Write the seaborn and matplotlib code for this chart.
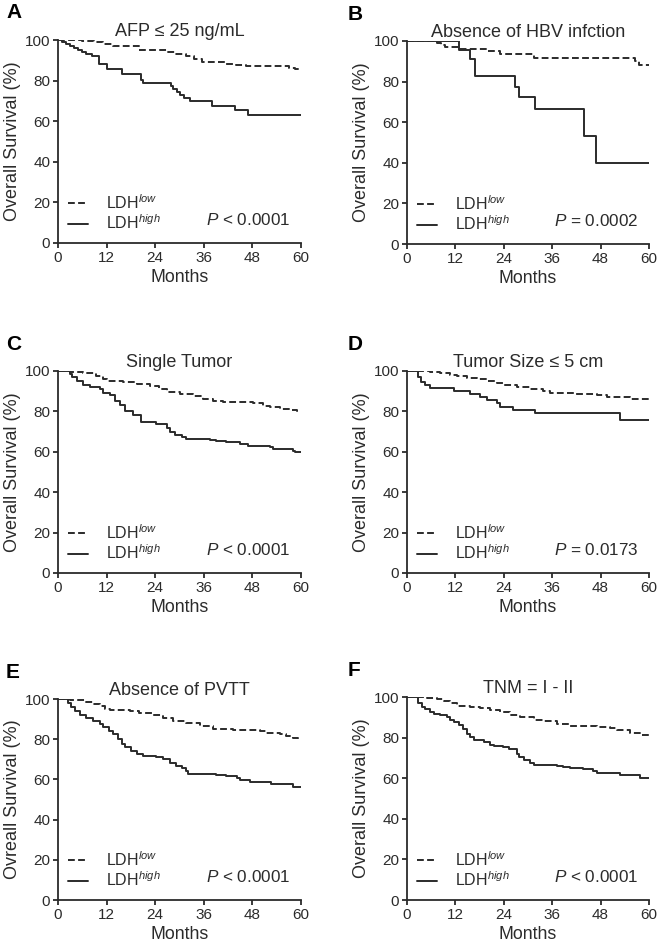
import numpy as np
import pandas as pd
import matplotlib
matplotlib.use('Agg')
import matplotlib.pyplot as plt
import seaborn as sns

# Kaplan-Meier steps (months, overall survival %)
a_low_t = [0, 6, 9, 11, 13.5, 20, 27, 29, 31.5, 33.5, 35.5, 41.5, 44, 46.5, 57, 58.5, 60]
a_low_s = [100, 99.5, 99, 98, 97, 95, 94, 93, 92, 90.5, 89, 88, 87.5, 87, 86, 85.5, 85.5]
a_high_t = [0, 1, 2, 3, 4, 5, 6, 7, 8.5, 10, 12, 15.7, 20.5, 21, 27.8, 28.5, 29.3, 30, 31, 32.5, 38, 43.7, 47, 60]
a_high_s = [100, 99, 98, 97, 96, 95, 94, 93, 92, 88, 85.7, 83.3, 80.5, 79, 77.5, 76, 74.5, 73, 71.5, 70, 67.7, 65.3, 63, 63]

b_low_t = [0, 7.5, 8.5, 9.5, 13, 19.8, 23, 31.4, 56.5, 57.4, 60]
b_low_s = [100, 99, 98, 97, 96, 95, 93.5, 91.5, 90, 88, 88]
b_high_t = [0, 12.8, 15.7, 16.8, 26.8, 27.7, 31.7, 44, 46.8, 60]
b_high_s = [100, 95.7, 91.3, 82.6, 77.3, 72.4, 66.7, 53.3, 40, 40]

c_low_t = [0, 3, 6.2, 9.5, 11, 12, 16, 19.4, 22.7, 25, 26.8, 30, 33.4, 35.9, 38.3, 40.8, 48.2, 50.7, 52.3, 54.8, 57.3, 58.9, 60]
c_low_s = [100, 99.5, 99, 97.5, 96, 95, 94.5, 93.5, 92.5, 91, 89.8, 88.7, 87.5, 86, 85, 84.5, 84, 82.5, 82, 81, 80.5, 80, 80]
c_high_t = [0, 2.9, 3.5, 4.6, 6.2, 7.8, 10.3, 11.1, 12.8, 14, 15.2, 16.5, 18.5, 20.6, 24.3, 26.8, 27.6, 29, 30.5, 31.7,
            37.5, 39, 41.6, 44.9, 47, 52.3, 53.1, 58, 58.5, 60]
c_high_s = [100, 98.5, 97, 95, 93, 92, 91, 89, 88, 85, 83, 80, 78, 75, 74, 72, 70, 68.5, 67.5, 66.5,
            66, 65.5, 65, 64, 63, 62.5, 61.5, 60.5, 59.7, 59.7]

d_low_t = [0, 5.8, 8.3, 10.7, 12.4, 14.9, 17.3, 19.8, 22.3, 23.9, 27.2, 30.5, 33.8, 35.5, 42, 47, 49.5, 55.3, 57.8, 60]
d_low_s = [100, 99.6, 99.2, 98, 97.5, 96.5, 96, 95, 94, 93, 92, 91, 90, 89, 88.5, 88, 87, 86.3, 86, 86]
d_high_t = [0, 2.7, 3.5, 4.5, 5.6, 11.6, 15.7, 18.2, 19.8, 22.3, 23.1, 26.4, 31.8, 52.8, 60]
d_high_s = [100, 97, 94.5, 93, 91.5, 90, 88.4, 86.9, 85.6, 84, 82, 80.8, 79.4, 75.9, 75.9]

e_low_t = [0, 2.9, 5.4, 7, 8.7, 10.3, 11.5, 12.8, 17.7, 20.1, 23.4, 26, 28.5, 31.7, 35, 38.3, 43.3, 49.8, 51.4, 54.8,
           56.4, 58.1, 59.3, 60]
e_low_s = [100, 99.6, 99.3, 98.5, 97.5, 96.5, 95, 94.5, 93.8, 93, 92, 90.5, 89, 88, 86.5, 85.3, 84.8, 84, 83, 82.5,
           81.5, 80.5, 80, 80]
e_high_t = [0, 2.5, 3.3, 4.1, 5.4, 7, 8.7, 10.3, 11.1, 12.5, 13.6, 14.8, 15.7, 16.5, 18.1, 19.4, 21, 24.3, 26, 27.6,
            29.2, 30.5, 31.7, 32.1, 35.8, 39.1, 41.6, 44.1, 44.9, 47.4, 52.7, 58.1, 60]
e_high_s = [100, 98, 96, 94, 92, 90.5, 89, 87.5, 86, 84, 82.5, 80, 77.5, 76, 74, 72.5, 71.5, 71, 70, 68,
            66.5, 65.5, 64, 62.8, 62.5, 62, 61.5, 60.5, 59.5, 58.5, 57.5, 56.3, 56.3]

f_low_t = [0, 5, 7.4, 9.1, 10.7, 12.4, 15.7, 18.2, 20.6, 23.1, 25.6, 28, 31.4, 33.8, 37.1, 40.4, 47, 50.3, 52, 55.3,
           57.8, 59.4, 60]
f_low_s = [100, 99.6, 99.2, 98.2, 97, 95.8, 95, 94.5, 93.5, 92.7, 91, 90, 88.8, 88, 86.5, 85.8, 85.2, 84.5, 83.5, 82.5,
           81.5, 81.2, 81.2]
f_high_t = [0, 2.7, 3.7, 4.5, 5.8, 6.6, 8.3, 9.9, 10.7, 11.6, 12.8, 14, 14.9, 15.7, 16.5, 19, 20.6, 21.5, 23.9, 25.2,
            27.2, 27.7, 28.9, 30.5, 31.4, 37.1, 38.8, 40.4, 43.7, 46.2, 47, 52.8, 57.8, 60]
f_high_s = [100, 97, 95, 94, 92.5, 91.5, 91, 90, 88.5, 87.5, 86, 84, 82, 80.5, 79, 78, 76.5, 75.8, 75.3, 74.5,
            72, 70.5, 69, 67.5, 66.5, 66, 65.5, 65, 64.5, 63.5, 62.8, 61.5, 60, 60]

letters = ['A', 'B', 'C', 'D', 'E', 'F']
titles = ['AFP \u2264 25 ng/mL', 'Absence of HBV infction', 'Single Tumor',
          'Tumor Size \u2264 5 cm', 'Absence of PVTT', 'TNM = I - II']
ylabels = ['Overall Survival (%)'] * 4 + ['Ovreall Survival (%)', 'Overall Survival (%)']
pvals = ['$P$ < 0.0001', '$P$ = 0.0002', '$P$ < 0.0001', '$P$ = 0.0173', '$P$ < 0.0001', '$P$ < 0.0001']
curves = [(a_low_t, a_low_s, a_high_t, a_high_s), (b_low_t, b_low_s, b_high_t, b_high_s),
          (c_low_t, c_low_s, c_high_t, c_high_s), (d_low_t, d_low_s, d_high_t, d_high_s),
          (e_low_t, e_low_s, e_high_t, e_high_s), (f_low_t, f_low_s, f_high_t, f_high_s)]

LOW = 'LDH$^{low}$'
HIGH = 'LDH$^{high}$'
ink = '#2b2b2b'

sns.set_style('ticks')
plt.rcParams['font.family'] = ['Liberation Sans', 'DejaVu Sans']
plt.rcParams['mathtext.fontset'] = 'custom'
plt.rcParams['mathtext.rm'] = 'Liberation Sans'
plt.rcParams['mathtext.it'] = 'Liberation Sans:italic'
plt.rcParams['axes.edgecolor'] = ink
plt.rcParams['xtick.color'] = ink
plt.rcParams['ytick.color'] = ink
plt.rcParams['text.color'] = ink
plt.rcParams['axes.labelcolor'] = ink

fig = plt.figure(figsize=(6.59, 9.46), dpi=100)

# axes rectangles in pixels: left, top, right, bottom
boxes = [(58, 40, 301, 243), (407, 41, 649, 244),
         (58, 371, 301, 573), (407, 371, 649, 573),
         (58, 699, 301, 900), (407, 697, 649, 900)]
W, H = 659, 946

for i, (l, t, r, b) in enumerate(boxes):
    ax = fig.add_axes([l / W, 1 - b / H, (r - l) / W, (b - t) / H])
    lt, ls, ht, hs = curves[i]
    df = pd.DataFrame({
        'months': lt + ht,
        'survival': ls + hs,
        'group': [LOW] * len(lt) + [HIGH] * len(ht),
    })
    sns.lineplot(data=df, x='months', y='survival', hue='group', style='group',
                 palette={LOW: ink, HIGH: ink}, dashes={LOW: (3.5, 1.7), HIGH: ''},
                 estimator=None, errorbar=None, sort=False, drawstyle='steps-post',
                 linewidth=1.4, ax=ax)
    ax.set_xlim(0, 60)
    ax.set_ylim(0, 100)
    ax.set_xticks(np.arange(0, 61, 12))
    ax.set_yticks(np.arange(0, 101, 20))
    sns.despine(ax=ax)
    for s in ['left', 'bottom']:
        ax.spines[s].set_linewidth(1.3)
    ax.tick_params(direction='out', length=3.6, width=1.3, labelsize=11, pad=2)
    ax.set_xlabel('Months', fontsize=12.8, labelpad=3)
    ax.set_ylabel(ylabels[i], fontsize=13, labelpad=3)
    ax.set_title(titles[i], fontsize=13, pad=2)
    sns.move_legend(ax, 'lower left', bbox_to_anchor=(0.0, 0.005), frameon=False, title=None,
                    fontsize=11.5, handlelength=1.3, handletextpad=1.1, labelspacing=0.12,
                    borderaxespad=0.2)
    ax.text(0.958, 0.115, pvals[i], transform=ax.transAxes, ha='right', va='center', fontsize=12.3)
    fig.text((6 if i % 2 == 0 else 348) / W, 1 - (t - 27) / H, letters[i], fontsize=15,
             fontweight='bold', color='black', ha='left', va='center')

fig.savefig('out.png', dpi=100)
